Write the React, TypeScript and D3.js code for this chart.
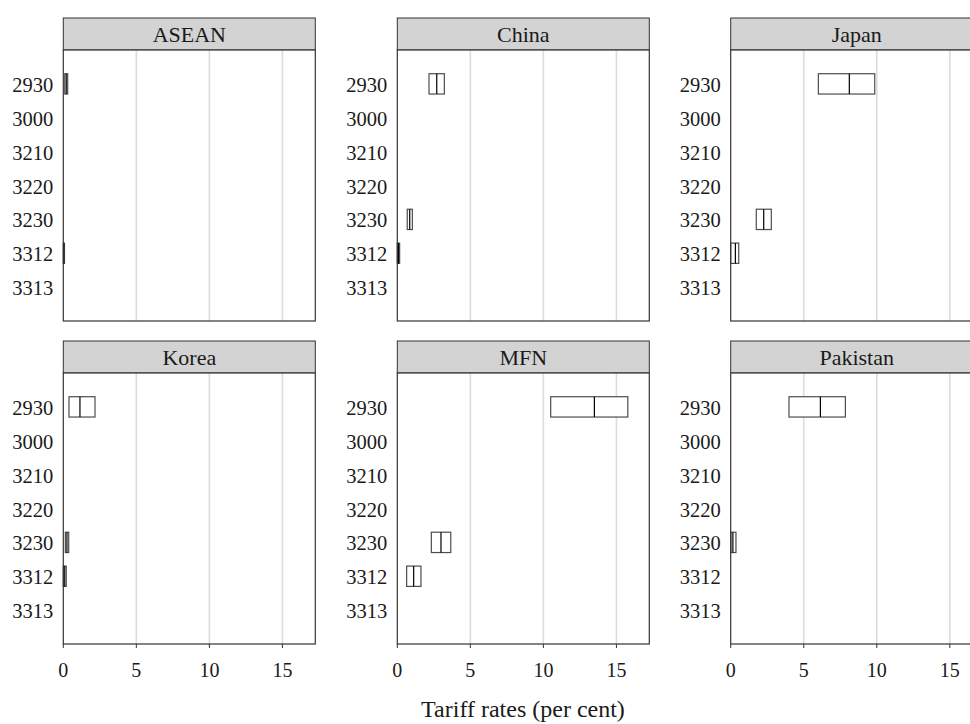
import React from 'react';
import * as d3 from 'd3';

// tariff lines (HS codes) shown on every panel
const codes = ['2930', '3000', '3210', '3220', '3230', '3312', '3313'];
const panels = ['ASEAN', 'China', 'Japan', 'Korea', 'MFN', 'Pakistan'];
const xTicks = [0, 5, 10, 15];

// [code, lower quartile, median, upper quartile]
const asean = [['2930', 0.1, 0.2, 0.3], ['3312', 0, 0.03, 0.08]];
const china = [['2930', 2.17, 2.7, 3.22], ['3230', 0.68, 0.85, 1.03], ['3312', 0, 0.08, 0.16]];
const japan = [['2930', 6.0, 8.12, 9.86], ['3230', 1.75, 2.26, 2.78], ['3312', 0, 0.32, 0.55]];
const korea = [['2930', 0.39, 1.14, 2.17], ['3230', 0.14, 0.25, 0.37], ['3312', 0, 0.1, 0.2]];
const mfn = [['2930', 10.5, 13.49, 15.78], ['3230', 2.33, 2.99, 3.66], ['3312', 0.64, 1.12, 1.62]];
const pakistan = [['2930', 3.99, 6.14, 7.85], ['3230', 0.02, 0.15, 0.36]];

const panelData = [asean, china, japan, korea, mfn, pakistan];

const W = 970;
const H = 724;
const font = '"Liberation Serif", "DejaVu Serif", serif';

const colLeft = [63.3, 397.3, 730.7];
const panelW = 252;
const rowTop = [18, 341];
const stripH = 32;
const plotH = 271;

const x = d3.scaleLinear().domain([0, 17.25]).range([0, panelW]);
const y = d3.scalePoint().domain(codes).range([0, plotH]).padding(1);
const boxH = y.step() * 0.6;

const Panel = ({ name, rows, left, top, bottomAxis }) => {
  const py = top + stripH;
  return (
    <g>
      <rect x={left} y={top} width={panelW} height={stripH} fill="#d3d3d3" stroke="#333" strokeWidth={1} />
      <text x={left + panelW / 2} y={top + 23.7} textAnchor="middle"
        fontSize={22} fontFamily={font} fill="#1a1a1a">{name}</text>
      <g transform={`translate(${left},${py})`}>
        <rect width={panelW} height={plotH} fill="#fff" />
        {xTicks.filter(t => t > 0).map(t => (
          <line key={t} x1={x(t)} x2={x(t)} y1={0} y2={plotH} stroke="#dcdcdc" strokeWidth={1.6} />
        ))}
        {rows.map(([code, q1, med, q3]) => {
          const cy = y(code);
          return (
            <g key={code}>
              <rect x={x(q1)} y={cy - boxH / 2} width={Math.max(x(q3) - x(q1), 0.5)} height={boxH}
                fill="#fff" stroke="#4d4d4d" strokeWidth={1.2} />
              <line x1={x(med)} x2={x(med)} y1={cy - boxH / 2} y2={cy + boxH / 2} stroke="#000" strokeWidth={1.2} />
            </g>
          );
        })}
        <rect width={panelW} height={plotH} fill="none" stroke="#333" strokeWidth={1.2} />
        {codes.map(c => (
          <text key={c} x={-10} y={y(c) + 8} textAnchor="end"
            fontSize={20.5} fontFamily={font} fill="#1a1a1a">{c}</text>
        ))}
        {bottomAxis && xTicks.map(t => (
          <g key={t} transform={`translate(${x(t)},${plotH})`}>
            <line y1={0} y2={4} stroke="#333" strokeWidth={1} />
            <text y={33} textAnchor="middle" fontSize={20} fontFamily={font} fill="#1a1a1a">{t}</text>
          </g>
        ))}
      </g>
    </g>
  );
};

export default function App() {
  return (
    <svg width={W} height={H} style={{ position: 'absolute', left: 0, top: 0, background: '#fff' }}>
      {panels.map((p, i) => (
        <Panel key={p} name={p} rows={panelData[i]} left={colLeft[i % 3]} top={rowTop[Math.floor(i / 3)]}
          bottomAxis={i >= 3} />
      ))}
      <text x={(colLeft[0] + colLeft[2] + panelW) / 2} y={717} textAnchor="middle"
        fontSize={24} fontFamily={font} fill="#1a1a1a">Tariff rates (per cent)</text>
    </svg>
  );
}
